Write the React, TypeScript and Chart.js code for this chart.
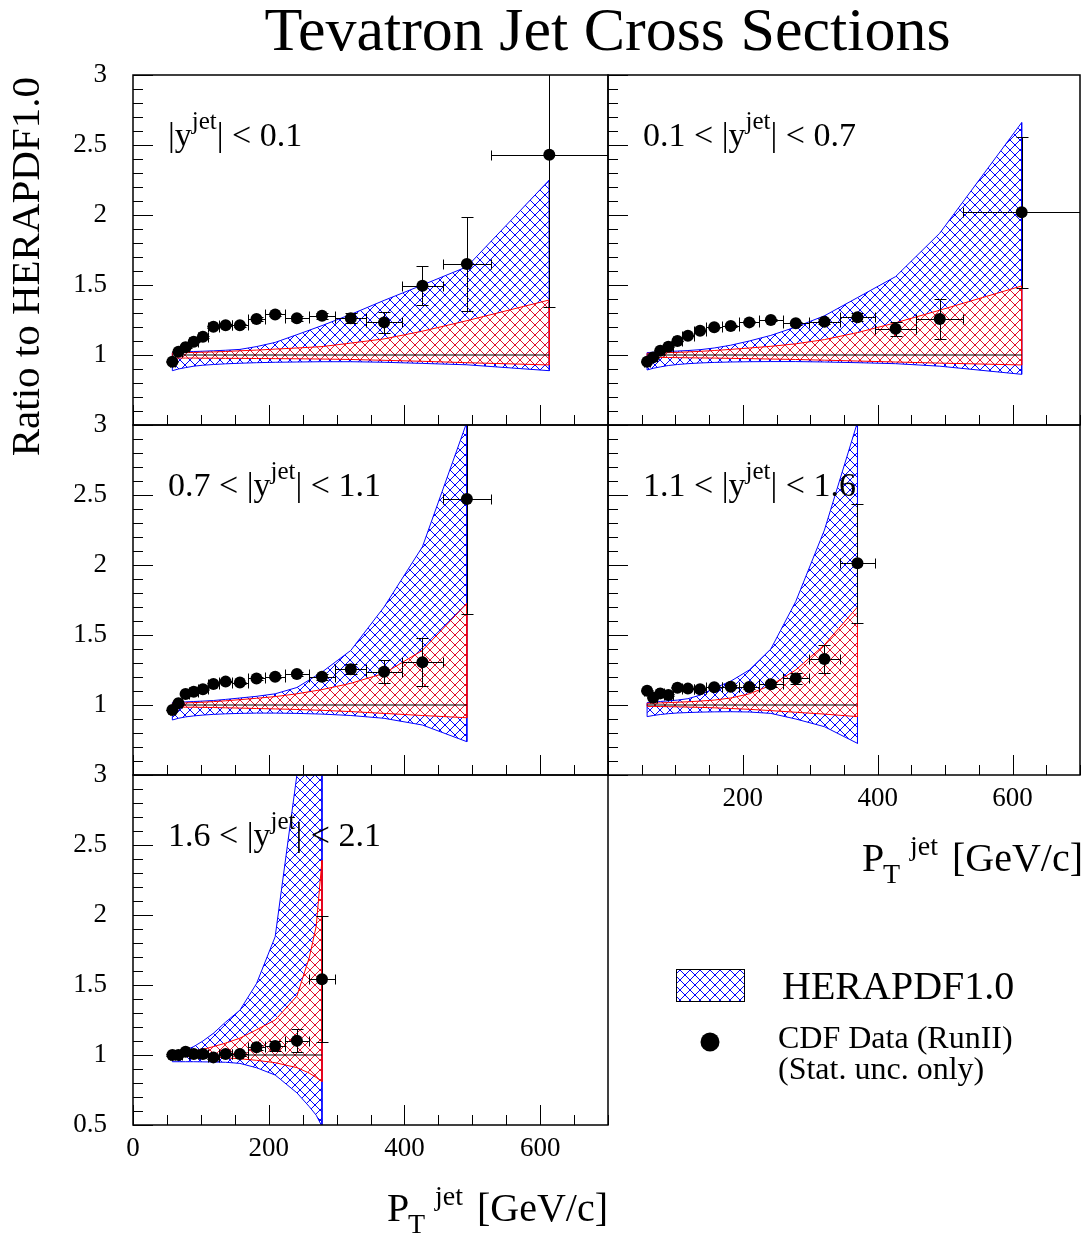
import React, { useEffect, useRef } from 'react';
import { Chart, registerables } from 'chart.js';

Chart.register(...registerables);

const PAGE_W = 1086;
const PAGE_H = 1236;
const SERIF = '"Liberation Serif", "Times New Roman", Times, serif';

const CHART_TITLE = 'Tevatron Jet Cross Sections';
const Y_AXIS_TITLE = 'Ratio to HERAPDF1.0';
const X_TITLE_PARTS = ['P', 'T', 'jet', '[GeV/c]'];
const LEGEND_BAND = 'HERAPDF1.0';
const LEGEND_DATA_1 = 'CDF Data (RunII)';
const LEGEND_DATA_2 = '(Stat. unc. only)';

const X_MIN = 0;
const X_MAX = 700;
const Y_MIN = 0.5;
const Y_MAX = 3;
const X_TICK_LABELS = [0, 200, 400, 600];
const X_MINOR_STEP = 50;
const Y_TICK_LABELS = [0.5, 1, 1.5, 2, 2.5, 3];
const Y_MINOR_STEP = 0.1;
const UNITY = 1;

const BLUE = '#0000ff';
const RED = '#ff0000';
const RED_HATCH = '#e0102e';

// pT bins (GeV/c)
const PT_LOW = [54, 62, 72, 83, 96, 110, 127, 146, 169, 195, 224, 259, 298, 344, 396, 457, 527];
const PT_HIGH = [62, 72, 83, 96, 110, 127, 146, 169, 195, 224, 259, 298, 344, 396, 457, 527, 700];
const PT_CENTER = [58, 67, 77.5, 89.5, 103, 118.5, 136.5, 157.5, 182, 209.5, 241.5, 278.5, 321, 370, 426.5, 492, 613.5];

// Panel 1: |y| < 0.1
const LABEL_1 = ['|y', 'jet', '| < 0.1'];
const RATIO_1 = [0.952, 1.024, 1.055, 1.095, 1.131, 1.202, 1.212, 1.212, 1.257, 1.29, 1.262, 1.281, 1.262, 1.233, 1.495, 1.65, 2.43];
const STAT_1 = [0.003, 0.004, 0.005, 0.005, 0.006, 0.007, 0.008, 0.009, 0.011, 0.013, 0.016, 0.022, 0.036, 0.074, 0.14, 0.336, 1.09];
const BAND_X_1 = [58, 67, 77.5, 89.5, 103, 118.5, 136.5, 157.5, 182, 209.5, 241.5, 278.5, 321, 370, 426.5, 492, 613.5];
const BLUE_HI_1 = [1.017, 1.02, 1.022, 1.025, 1.027, 1.03, 1.034, 1.04, 1.06, 1.09, 1.145, 1.21, 1.29, 1.39, 1.5, 1.63, 2.25];
const BLUE_LO_1 = [0.888, 0.9, 0.91, 0.92, 0.927, 0.932, 0.937, 0.941, 0.945, 0.948, 0.95, 0.952, 0.952, 0.948, 0.94, 0.93, 0.888];
const RED_HI_1 = [1.015, 1.016, 1.017, 1.018, 1.02, 1.022, 1.025, 1.03, 1.035, 1.042, 1.05, 1.06, 1.085, 1.115, 1.17, 1.245, 1.393];
const RED_LO_1 = [0.978, 0.978, 0.978, 0.978, 0.977, 0.977, 0.976, 0.976, 0.975, 0.974, 0.973, 0.971, 0.968, 0.962, 0.955, 0.945, 0.929];

// Panel 2: 0.1 < |y| < 0.7
const LABEL_2 = ['0.1 < |y', 'jet', '| < 0.7'];
const RATIO_2 = [0.952, 0.983, 1.031, 1.059, 1.1, 1.138, 1.174, 1.198, 1.207, 1.233, 1.25, 1.226, 1.238, 1.27, 1.188, 1.257, 2.019];
const STAT_2 = [0.002, 0.002, 0.003, 0.003, 0.003, 0.004, 0.004, 0.005, 0.006, 0.007, 0.009, 0.012, 0.018, 0.028, 0.05, 0.14, 0.54];
const BAND_X_2 = [58, 67, 77.5, 89.5, 103, 118.5, 136.5, 157.5, 182, 209.5, 241.5, 278.5, 321, 370, 426.5, 492, 613.5];
const BLUE_HI_2 = [1.017, 1.02, 1.022, 1.025, 1.028, 1.032, 1.038, 1.05, 1.07, 1.1, 1.14, 1.2, 1.28, 1.41, 1.56, 1.87, 2.66];
const BLUE_LO_2 = [0.893, 0.905, 0.915, 0.925, 0.932, 0.938, 0.943, 0.947, 0.95, 0.952, 0.953, 0.953, 0.95, 0.945, 0.938, 0.92, 0.862];
const RED_HI_2 = [1.012, 1.013, 1.015, 1.017, 1.019, 1.022, 1.026, 1.032, 1.04, 1.05, 1.062, 1.08, 1.11, 1.16, 1.23, 1.32, 1.493];
const RED_LO_2 = [0.983, 0.983, 0.982, 0.982, 0.981, 0.98, 0.979, 0.978, 0.976, 0.974, 0.971, 0.968, 0.963, 0.957, 0.95, 0.942, 0.929];

// Panel 3: 0.7 < |y| < 1.1
const LABEL_3 = ['0.7 < |y', 'jet', '| < 1.1'];
const RATIO_3 = [0.964, 1.012, 1.079, 1.095, 1.112, 1.15, 1.167, 1.16, 1.19, 1.202, 1.221, 1.202, 1.255, 1.238, 1.305, 2.471];
const STAT_3 = [0.003, 0.003, 0.004, 0.004, 0.005, 0.005, 0.006, 0.007, 0.008, 0.01, 0.013, 0.02, 0.035, 0.083, 0.172, 0.82];
const BAND_X_3 = [58, 67, 77.5, 89.5, 103, 118.5, 136.5, 157.5, 182, 209.5, 241.5, 278.5, 321, 370, 426.5, 492];
const BLUE_HI_3 = [1.017, 1.02, 1.022, 1.025, 1.028, 1.032, 1.04, 1.05, 1.062, 1.08, 1.125, 1.235, 1.39, 1.7, 2.13, 3.02];
const BLUE_LO_3 = [0.893, 0.905, 0.915, 0.922, 0.928, 0.933, 0.937, 0.94, 0.942, 0.942, 0.94, 0.935, 0.925, 0.905, 0.857, 0.738];
const RED_HI_3 = [1.012, 1.013, 1.015, 1.017, 1.02, 1.024, 1.03, 1.038, 1.048, 1.06, 1.08, 1.11, 1.155, 1.226, 1.39, 1.726];
const RED_LO_3 = [0.985, 0.985, 0.984, 0.984, 0.983, 0.982, 0.98, 0.978, 0.975, 0.972, 0.968, 0.962, 0.953, 0.94, 0.925, 0.909];

// Panel 4: 1.1 < |y| < 1.6
const LABEL_4 = ['1.1 < |y', 'jet', '| < 1.6'];
const RATIO_4 = [1.102, 1.052, 1.083, 1.071, 1.124, 1.117, 1.112, 1.126, 1.131, 1.129, 1.148, 1.19, 1.329, 2.012];
const STAT_4 = [0.004, 0.004, 0.005, 0.005, 0.006, 0.006, 0.007, 0.008, 0.009, 0.012, 0.018, 0.04, 0.1, 0.425];
const BAND_X_4 = [58, 67, 77.5, 89.5, 103, 118.5, 136.5, 157.5, 182, 209.5, 241.5, 278.5, 321, 370];
const BLUE_HI_4 = [1.017, 1.02, 1.025, 1.03, 1.035, 1.045, 1.07, 1.12, 1.17, 1.25, 1.4, 1.74, 2.25, 3.02];
const BLUE_LO_4 = [0.917, 0.925, 0.932, 0.938, 0.943, 0.946, 0.949, 0.951, 0.952, 0.95, 0.94, 0.9, 0.845, 0.726];
const RED_HI_4 = [1.012, 1.013, 1.015, 1.017, 1.02, 1.023, 1.028, 1.035, 1.05, 1.08, 1.14, 1.25, 1.43, 1.7];
const RED_LO_4 = [0.99, 0.99, 0.989, 0.988, 0.987, 0.985, 0.983, 0.98, 0.975, 0.969, 0.96, 0.948, 0.935, 0.917];

// Panel 5: 1.6 < |y| < 2.1
const LABEL_5 = ['1.6 < |y', 'jet', '| < 2.1'];
const RATIO_5 = [1.0, 1.0, 1.024, 1.007, 1.007, 0.983, 1.007, 1.007, 1.055, 1.064, 1.102, 1.541];
const STAT_5 = [0.005, 0.005, 0.006, 0.006, 0.007, 0.008, 0.009, 0.011, 0.02, 0.035, 0.083, 0.449];
const BAND_X_5 = [58, 67, 77.5, 89.5, 103, 118.5, 136.5, 157.5, 182, 209.5, 241.5, 260, 270, 278.5];
const BLUE_HI_5 = [1.005, 1.02, 1.035, 1.06, 1.1, 1.155, 1.235, 1.32, 1.51, 1.845, 3.0, 4.0, 4.5, 5.0];
const BLUE_LO_5 = [0.952, 0.952, 0.952, 0.952, 0.951, 0.95, 0.948, 0.94, 0.909, 0.857, 0.73, 0.63, 0.57, 0.49];
const RED_HI_5 = [1.0, 1.008, 1.017, 1.027, 1.04, 1.06, 1.085, 1.12, 1.18, 1.25, 1.42, 1.7, 1.92, 2.39];
const RED_LO_5 = [0.99, 0.99, 0.989, 0.988, 0.987, 0.985, 0.98, 0.973, 0.962, 0.945, 0.91, 0.87, 0.84, 0.81];

type Frame = { left: number; top: number; right: number; bottom: number };
type Panel = {
  key: string;
  frame: Frame;
  label: string[];
  ratio: number[];
  stat: number[];
  bandX: number[];
  blueHi: number[];
  blueLo: number[];
  redHi: number[];
  redLo: number[];
  yLabels: boolean;
  showHalf: boolean;
  xLabels: boolean;
  showZero: boolean;
};

const PANELS: Panel[] = [
  { key: 'p1', frame: { left: 133, top: 75, right: 608, bottom: 425 }, label: LABEL_1, ratio: RATIO_1, stat: STAT_1, bandX: BAND_X_1, blueHi: BLUE_HI_1, blueLo: BLUE_LO_1, redHi: RED_HI_1, redLo: RED_LO_1, yLabels: true, showHalf: false, xLabels: false, showZero: false },
  { key: 'p2', frame: { left: 608, top: 75, right: 1083, bottom: 425 }, label: LABEL_2, ratio: RATIO_2, stat: STAT_2, bandX: BAND_X_2, blueHi: BLUE_HI_2, blueLo: BLUE_LO_2, redHi: RED_HI_2, redLo: RED_LO_2, yLabels: false, showHalf: false, xLabels: false, showZero: false },
  { key: 'p3', frame: { left: 133, top: 425, right: 608, bottom: 775 }, label: LABEL_3, ratio: RATIO_3, stat: STAT_3, bandX: BAND_X_3, blueHi: BLUE_HI_3, blueLo: BLUE_LO_3, redHi: RED_HI_3, redLo: RED_LO_3, yLabels: true, showHalf: false, xLabels: false, showZero: false },
  { key: 'p4', frame: { left: 608, top: 425, right: 1083, bottom: 775 }, label: LABEL_4, ratio: RATIO_4, stat: STAT_4, bandX: BAND_X_4, blueHi: BLUE_HI_4, blueLo: BLUE_LO_4, redHi: RED_HI_4, redLo: RED_LO_4, yLabels: false, showHalf: false, xLabels: true, showZero: false },
  { key: 'p5', frame: { left: 133, top: 775, right: 608, bottom: 1125 }, label: LABEL_5, ratio: RATIO_5, stat: STAT_5, bandX: BAND_X_5, blueHi: BLUE_HI_5, blueLo: BLUE_LO_5, redHi: RED_HI_5, redLo: RED_LO_5, yLabels: true, showHalf: true, xLabels: true, showZero: true },
];

const Y_AXIS_WIDTH = 133;
const X_AXIS_HEIGHT = 60;

function makeHatch(color: string): CanvasPattern {
  const s = 10;
  const c = document.createElement('canvas');
  c.width = s;
  c.height = s;
  const g = c.getContext('2d') as CanvasRenderingContext2D;
  g.strokeStyle = color;
  g.lineWidth = 1;
  g.beginPath();
  for (const o of [-s, 0, s]) {
    g.moveTo(o, 0);
    g.lineTo(o + s, s);
    g.moveTo(o + s, 0);
    g.lineTo(o, s);
  }
  g.stroke();
  return g.createPattern(c, 'repeat') as CanvasPattern;
}

function drawPtTitle(ctx: CanvasRenderingContext2D, x0: number, base: number) {
  ctx.fillStyle = '#000';
  ctx.textAlign = 'left';
  ctx.textBaseline = 'alphabetic';
  ctx.font = `40px ${SERIF}`;
  ctx.fillText(X_TITLE_PARTS[0], x0, base);
  ctx.font = `28px ${SERIF}`;
  ctx.fillText(X_TITLE_PARTS[1], x0 + 21, base + 12);
  ctx.fillText(X_TITLE_PARTS[2], x0 + 48, base - 16);
  ctx.font = `40px ${SERIF}`;
  ctx.fillText(X_TITLE_PARTS[3], x0 + 90, base);
}

function buildChart(canvas: HTMLCanvasElement, p: Panel, blue: CanvasPattern, red: CanvasPattern, withPageDecor: boolean) {
  const last = p.bandX.length - 1;
  const line = (arr: number[]) => p.bandX.map((x, i) => ({ x, y: arr[i] }));
  const outline = (hi: number[], lo: number[]) => [
    ...line(hi),
    ...line(lo).reverse(),
    { x: p.bandX[0], y: hi[0] },
  ];
  const points = p.ratio.map((r, i) => ({ x: PT_CENTER[i], y: r }));
  const bars = p.ratio.map((r, i) => ({ x: PT_CENTER[i], y: r, xlo: PT_LOW[i], xhi: PT_HIGH[i], dy: p.stat[i] }));

  const base = { pointRadius: 0, tension: 0, showLine: true };
  const datasets: any[] = [
    { ...base, label: 'blueHi', data: line(p.blueHi), fill: '+1', backgroundColor: blue, borderColor: 'transparent', borderWidth: 0, order: 10 },
    { ...base, label: 'blueLo', data: line(p.blueLo), fill: false, borderColor: 'transparent', borderWidth: 0, order: 10 },
    { ...base, label: 'blueEdge', data: outline(p.blueHi, p.blueLo), fill: false, borderColor: BLUE, borderWidth: 1, order: 9 },
    { ...base, label: 'redHi', data: line(p.redHi), fill: '+1', backgroundColor: red, borderColor: 'transparent', borderWidth: 0, order: 8 },
    { ...base, label: 'redLo', data: line(p.redLo), fill: false, borderColor: 'transparent', borderWidth: 0, order: 8 },
    { ...base, label: 'redEdge', data: outline(p.redHi, p.redLo), fill: false, borderColor: RED, borderWidth: 1, order: 7 },
    { ...base, label: 'unity', data: [{ x: p.bandX[0], y: UNITY }, { x: p.bandX[last], y: UNITY }], fill: false, borderColor: '#000', borderWidth: 1, order: 5 },
    { label: 'CDF', data: points, showLine: false, pointRadius: 6, pointBackgroundColor: '#000', pointBorderWidth: 0, pointBorderColor: '#000', order: 0, errorBars: bars },
  ];

  const f = p.frame;
  const padding = {
    left: p.yLabels ? f.left - Y_AXIS_WIDTH : f.left,
    right: PAGE_W - f.right,
    top: f.top,
    bottom: p.xLabels ? PAGE_H - f.bottom - X_AXIS_HEIGHT : PAGE_H - f.bottom,
  };

  const errorBars = {
    id: 'errorBars',
    beforeDatasetDraw(chart: any, args: any) {
      const ds = chart.data.datasets[args.index];
      if (!ds.errorBars) return;
      const { ctx, chartArea: a } = chart;
      const xs = chart.scales.x;
      const ys = chart.scales.y;
      ctx.save();
      ctx.beginPath();
      ctx.rect(a.left, a.top, a.right - a.left, a.bottom - a.top + 1);
      ctx.clip();
      ctx.strokeStyle = '#000';
      ctx.lineWidth = 1;
      ctx.beginPath();
      for (const e of ds.errorBars) {
        const px = Math.round(xs.getPixelForValue(e.x)) + 0.5;
        const py = Math.round(ys.getPixelForValue(e.y)) + 0.5;
        const xl = Math.round(xs.getPixelForValue(e.xlo)) + 0.5;
        const xh = Math.round(xs.getPixelForValue(e.xhi)) + 0.5;
        const yl = Math.round(ys.getPixelForValue(e.y - e.dy)) + 0.5;
        const yh = Math.round(ys.getPixelForValue(e.y + e.dy)) + 0.5;
        ctx.moveTo(xl, py); ctx.lineTo(xh, py);
        ctx.moveTo(xl, py - 5); ctx.lineTo(xl, py + 5);
        ctx.moveTo(xh, py - 5); ctx.lineTo(xh, py + 5);
        ctx.moveTo(px, yl); ctx.lineTo(px, yh);
        ctx.moveTo(px - 6, yl); ctx.lineTo(px + 6, yl);
        ctx.moveTo(px - 6, yh); ctx.lineTo(px + 6, yh);
      }
      ctx.stroke();
      ctx.restore();
    },
  };

  const panelDecor = {
    id: 'panelDecor',
    afterDatasetsDraw(chart: any) {
      const { ctx, chartArea: a } = chart;
      ctx.save();
      ctx.fillStyle = '#000';
      ctx.textAlign = 'left';
      ctx.textBaseline = 'alphabetic';
      let x = a.left + 35;
      const y = a.top + 71;
      ctx.font = `34px ${SERIF}`;
      ctx.fillText(p.label[0], x, y);
      x += ctx.measureText(p.label[0]).width;
      ctx.font = `25px ${SERIF}`;
      ctx.fillText(p.label[1], x, y - 17);
      x += ctx.measureText(p.label[1]).width;
      ctx.font = `34px ${SERIF}`;
      ctx.fillText(p.label[2], x, y);
      if (p.xLabels) drawPtTitle(ctx, a.left + 254, a.bottom + 96);
      ctx.restore();
    },
  };

  const frameTicks = {
    id: 'frameTicks',
    afterDraw(chart: any) {
      const { ctx, chartArea: a } = chart;
      const xs = chart.scales.x;
      const ys = chart.scales.y;
      ctx.save();
      ctx.strokeStyle = '#000';
      ctx.lineWidth = 1;
      ctx.beginPath();
      for (let v = X_MIN; v <= X_MAX; v += X_MINOR_STEP) {
        const px = Math.round(xs.getPixelForValue(v)) + 0.5;
        const len = X_TICK_LABELS.includes(v) ? 20 : 10;
        ctx.moveTo(px, a.bottom);
        ctx.lineTo(px, a.bottom - len);
      }
      const nY = Math.round((Y_MAX - Y_MIN) / Y_MINOR_STEP);
      for (let k = 0; k <= nY; k++) {
        const v = Y_MIN + k * Y_MINOR_STEP;
        const py = Math.round(ys.getPixelForValue(v)) + 0.5;
        const major = Y_TICK_LABELS.some((t) => Math.abs(t - v) < 1e-6);
        ctx.moveTo(a.left, py);
        ctx.lineTo(a.left + (major ? 20 : 10), py);
      }
      ctx.stroke();
      ctx.lineWidth = 1.5;
      ctx.strokeRect(a.left, a.top, a.right - a.left, a.bottom - a.top);
      ctx.restore();
    },
  };

  const pageDecor = {
    id: 'pageDecor',
    afterDraw(chart: any) {
      if (!withPageDecor) return;
      const ctx = chart.ctx as CanvasRenderingContext2D;
      ctx.save();
      ctx.fillStyle = '#000';
      ctx.textBaseline = 'alphabetic';
      ctx.textAlign = 'center';
      ctx.font = `62px ${SERIF}`;
      ctx.fillText(CHART_TITLE, 607.5, 50);
      ctx.save();
      ctx.translate(28, 77);
      ctx.rotate(-Math.PI / 2);
      ctx.textAlign = 'right';
      ctx.textBaseline = 'middle';
      ctx.font = `41px ${SERIF}`;
      ctx.fillText(Y_AXIS_TITLE, 0, 0);
      ctx.restore();
      ctx.fillStyle = blue;
      ctx.fillRect(676, 969, 68, 32);
      ctx.strokeStyle = '#000';
      ctx.lineWidth = 1;
      ctx.strokeRect(676.5, 969.5, 68, 32);
      ctx.fillStyle = '#000';
      ctx.textAlign = 'left';
      ctx.font = `40px ${SERIF}`;
      ctx.fillText(LEGEND_BAND, 782, 999);
      ctx.beginPath();
      ctx.arc(710, 1042, 9.5, 0, Math.PI * 2);
      ctx.fill();
      ctx.font = `32px ${SERIF}`;
      ctx.fillText(LEGEND_DATA_1, 778, 1048);
      ctx.fillText(LEGEND_DATA_2, 778, 1079);
      ctx.restore();
    },
  };

  return new Chart(canvas, {
    type: 'line',
    data: { datasets },
    options: {
      responsive: false,
      animation: false,
      devicePixelRatio: 1,
      events: [],
      layout: { padding },
      plugins: {
        legend: { display: false },
        tooltip: { enabled: false },
        title: { display: false },
      },
      scales: {
        x: {
          type: 'linear',
          min: X_MIN,
          max: X_MAX,
          display: p.xLabels,
          grid: { display: false, drawTicks: false },
          border: { display: false },
          ticks: {
            stepSize: 200,
            includeBounds: false,
            autoSkip: false,
            maxRotation: 0,
            minRotation: 0,
            padding: 8,
            color: '#000',
            font: { family: SERIF, size: 27 },
            callback: (v: any) => (X_TICK_LABELS.includes(v) && (p.showZero || v !== 0) ? String(v) : ''),
          },
          afterFit: (s: any) => { s.height = p.xLabels ? X_AXIS_HEIGHT : 0; },
        },
        y: {
          type: 'linear',
          min: Y_MIN,
          max: Y_MAX,
          display: p.yLabels,
          grid: { display: false, drawTicks: false },
          border: { display: false },
          ticks: {
            stepSize: 0.5,
            autoSkip: false,
            padding: 26,
            color: '#000',
            font: { family: SERIF, size: 27 },
            callback: (v: any) => (Math.abs(v - 0.5) < 1e-6 && !p.showHalf ? '' : String(v)),
          },
          afterFit: (s: any) => { s.width = p.yLabels ? Y_AXIS_WIDTH : 0; },
        },
      },
    } as any,
    plugins: [errorBars, panelDecor, frameTicks, pageDecor],
  } as any);
}

export default function App() {
  const refs = useRef<(HTMLCanvasElement | null)[]>([]);
  useEffect(() => {
    const blue = makeHatch(BLUE);
    const red = makeHatch(RED_HATCH);
    const charts = PANELS.map((p, i) => buildChart(refs.current[i] as HTMLCanvasElement, p, blue, red, i === 0));
    return () => charts.forEach((c) => c.destroy());
  }, []);
  return (
    <div style={{ position: 'absolute', left: 0, top: 0, width: PAGE_W, height: PAGE_H, background: '#fff', overflow: 'hidden' }}>
      {PANELS.map((p, i) => (
        <canvas
          key={p.key}
          ref={(el) => { refs.current[i] = el; }}
          width={PAGE_W}
          height={PAGE_H}
          style={{ position: 'absolute', left: 0, top: 0, width: PAGE_W, height: PAGE_H }}
        />
      ))}
    </div>
  );
}
